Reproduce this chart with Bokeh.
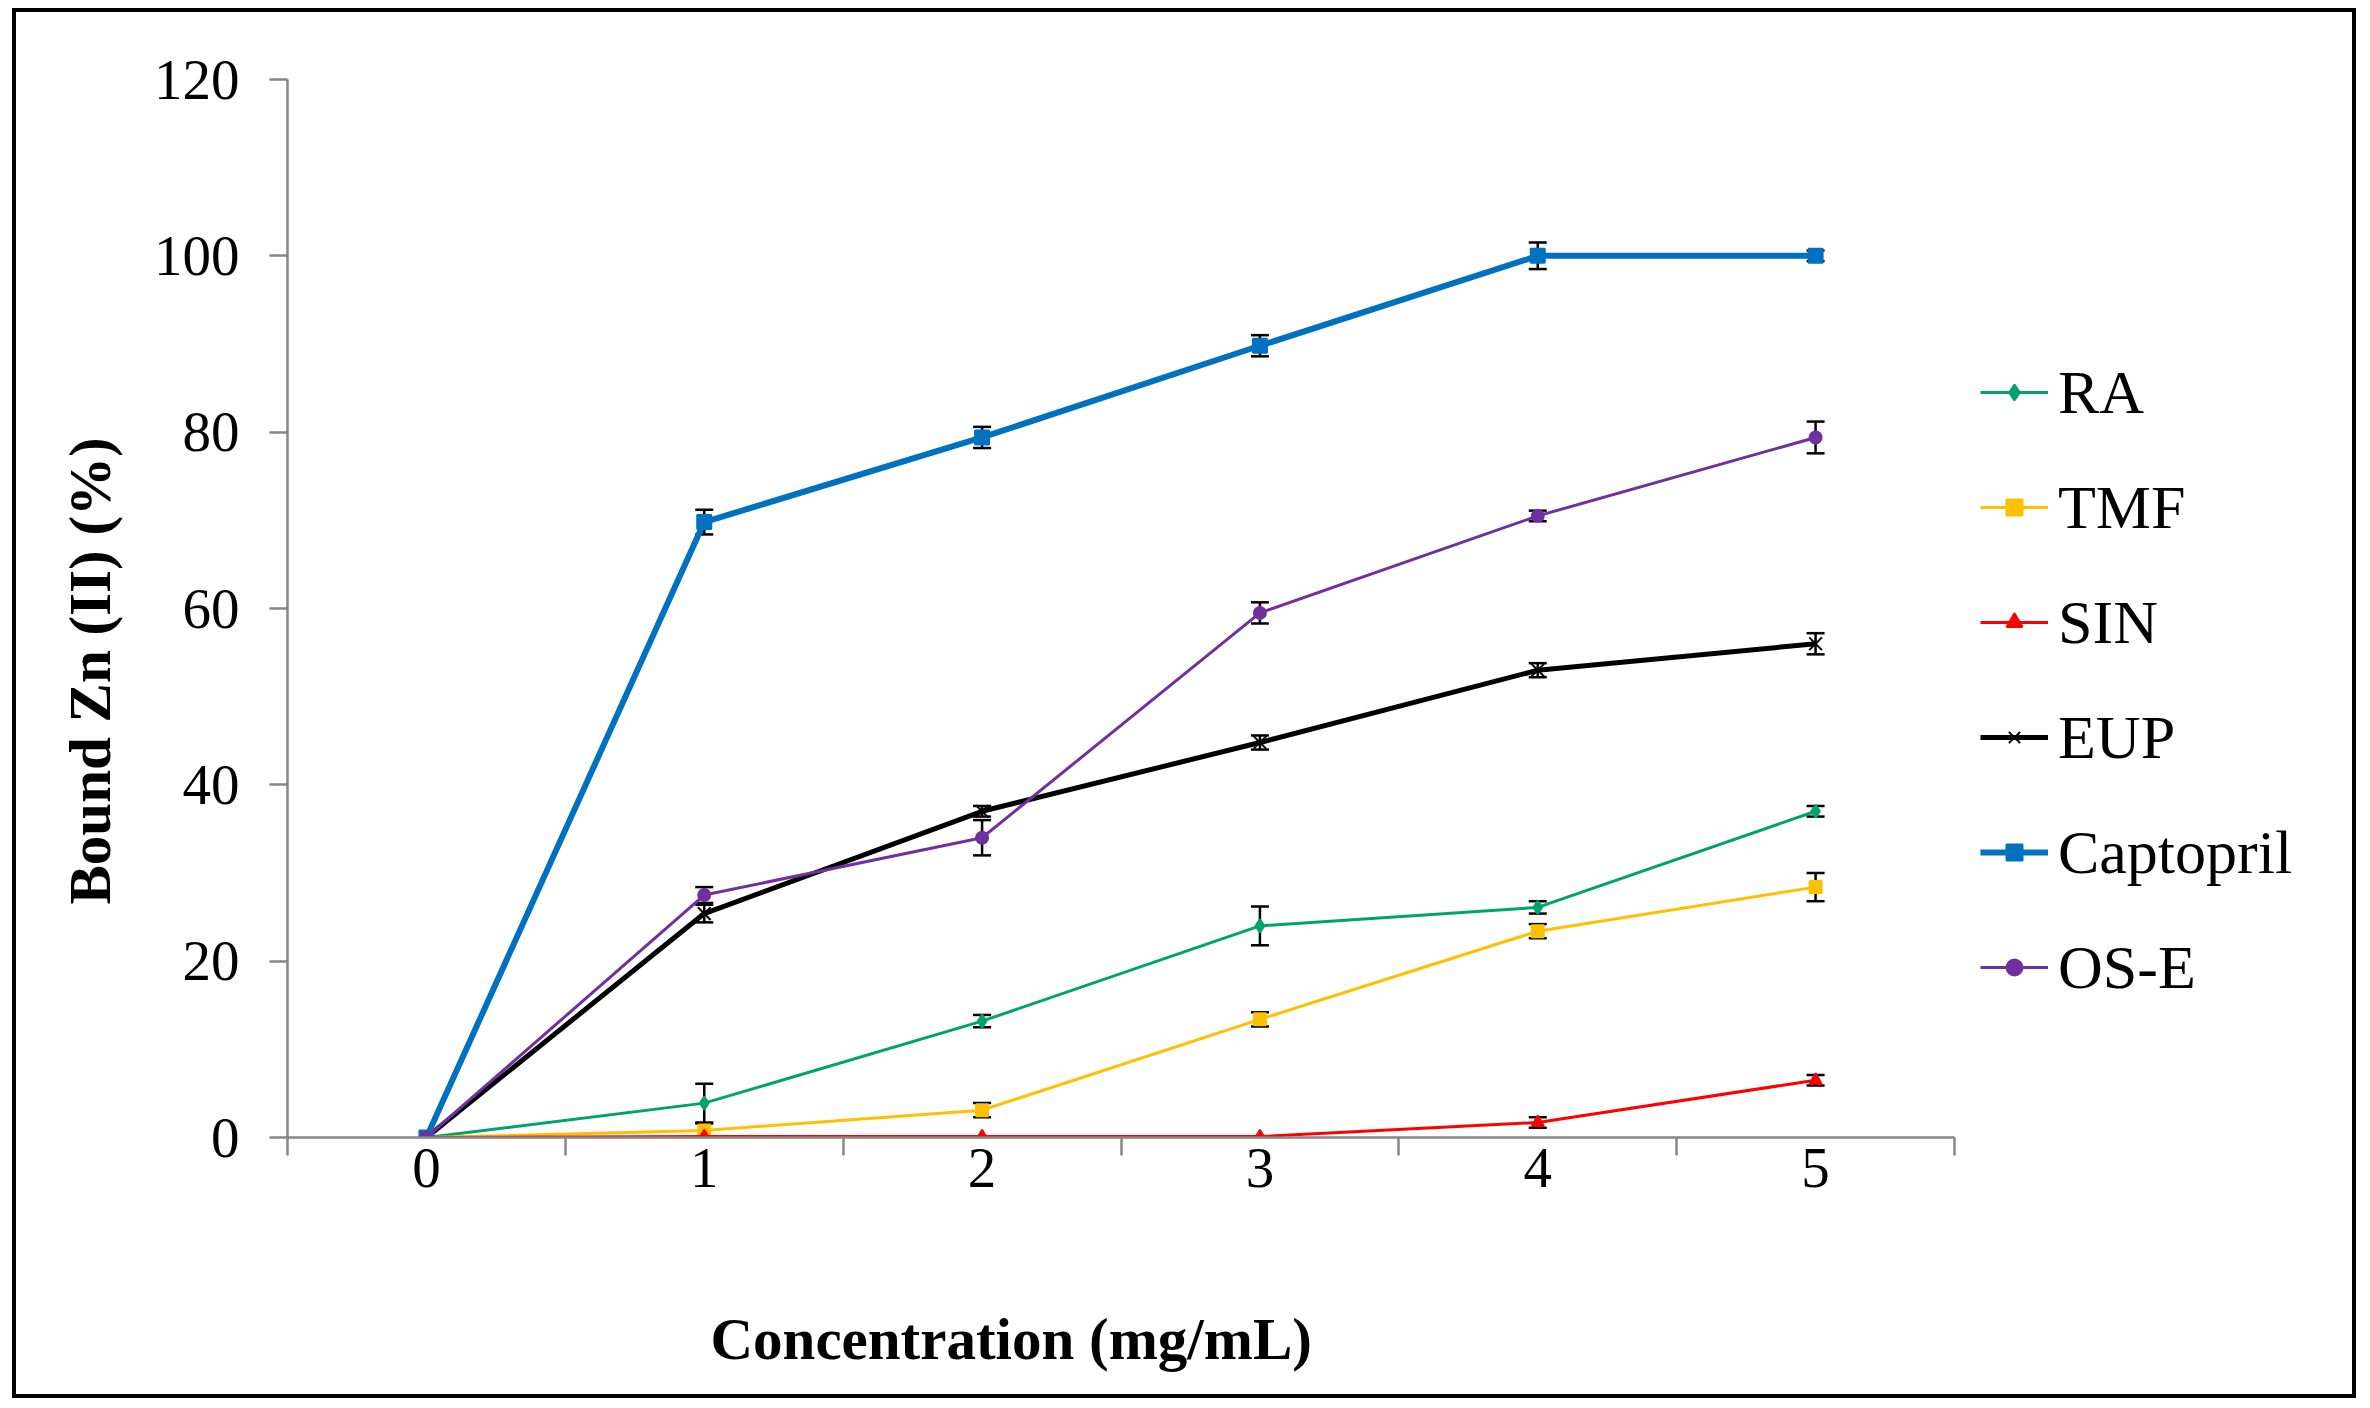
from bokeh.plotting import figure
from bokeh.models import (ColumnDataSource, Whisker, TeeHead, FixedTicker, Legend,
                          LegendItem, Range1d, Title, LinearAxis)
from bokeh.embed import file_html
from bokeh.resources import INLINE

# Data: concentration (mg/mL) vs bound Zn(II) (%)
conc = [0, 1, 2, 3, 4, 5]

ra = [0, 3.9, 13.2, 24.0, 26.1, 37.0]
ra_err = [0, 2.2, 0.7, 2.2, 0.7, 0.6]

tmf = [0, 0.8, 3.1, 13.4, 23.4, 28.4]
tmf_err = [0, 0.8, 0.8, 0.8, 0.8, 1.6]

sin = [0, 0.1, 0.1, 0.1, 1.7, 6.5]
sin_err = [0, 0, 0, 0, 0.6, 0.6]

eup = [0, 25.4, 37.0, 44.8, 53.0, 56.0]
eup_err = [0, 1.0, 0.6, 0.8, 0.8, 1.2]

captopril = [0, 69.8, 79.4, 89.8, 100.0, 100.0]
captopril_err = [0, 1.4, 1.2, 1.2, 1.5, 0.6]

ose = [0, 27.5, 34.0, 59.5, 70.5, 79.4]
ose_err = [0, 0.9, 2.0, 1.2, 0.6, 1.8]

y_ticks = [0, 20, 40, 60, 80, 100, 120]

FONT = "Liberation Serif"

W, H = 2344, 1390
LEFT, RIGHT, TOP, BOTTOM = 271, 48, 67, 265
AXIS_PX = 1667  # on-screen length of the x axis (-0.5 .. 5.5)
x_lo, x_hi = conc[0] - 0.5, conc[-1] + 0.5
# the frame runs on past the axis so the legend can sit inside it
x_end = x_lo + (x_hi - x_lo) * (W - LEFT - RIGHT) / AXIS_PX

p = figure(width=W, height=H, output_backend="svg", toolbar_location=None,
           x_range=Range1d(x_lo, x_end), y_range=Range1d(0, 120),
           min_border_left=LEFT, min_border_right=RIGHT, min_border_top=TOP, min_border_bottom=BOTTOM)
p.xgrid.visible = False
p.ygrid.visible = False
p.outline_line_color = None
p.background_fill_color = "white"
p.border_fill_color = "white"
# black frame round the whole picture
p.styles = {"border": "4px solid black", "margin-left": "12px", "margin-top": "8px"}

series = [
    ("RA", ra, ra_err, "#00A36C", 3, "diamond", 13),
    ("TMF", tmf, tmf_err, "#FFC000", 3, "square", 12),
    ("SIN", sin, sin_err, "#FF0000", 3, "triangle", 12),
    ("EUP", eup, eup_err, "black", 5, "x", 18),
    ("Captopril", captopril, captopril_err, "#0070C0", 6, "square", 14),
    ("OS-E", ose, ose_err, "#7030A0", 3, "circle", 12),
]

items = []
for name, vals, errs, color, lw, marker, size in series:
    src = ColumnDataSource(dict(x=conc, y=vals))
    l = p.line("x", "y", source=src, line_color=color, line_width=lw)
    m = p.scatter("x", "y", source=src, marker=marker, size=size,
                  fill_color=color, line_color=color, line_width=2)
    # error bars only where there is an error
    ex = [c for c, e in zip(conc, errs) if e > 0]
    lo = [v - e for v, e in zip(vals, errs) if e > 0]
    hi = [v + e for v, e in zip(vals, errs) if e > 0]
    esrc = ColumnDataSource(dict(x=ex, lower=lo, upper=hi))
    p.add_layout(Whisker(source=esrc, base="x", lower="lower", upper="upper",
                         line_color="black", line_width=2.5,
                         upper_head=TeeHead(size=18, line_color="black", line_width=2.5),
                         lower_head=TeeHead(size=18, line_color="black", line_width=2.5)))
    items.append(LegendItem(label=name, renderers=[l, m]))

# x axis: labels at integers, ticks between categories
p.xaxis.bounds = (x_lo, x_hi)
p.xaxis.ticker = FixedTicker(ticks=conc, minor_ticks=[c - 0.5 for c in conc] + [x_hi])
p.xaxis.major_tick_out = 0
p.xaxis.major_tick_in = 0
p.xaxis.minor_tick_out = 18
p.xaxis.minor_tick_in = 0
p.xaxis.minor_tick_line_color = "#868686"
p.xaxis.minor_tick_line_width = 2.5
p.xaxis.major_label_standoff = -7

p.yaxis.ticker = FixedTicker(ticks=y_ticks, minor_ticks=[])
p.yaxis.major_tick_out = 18
p.yaxis.major_tick_in = 0
p.yaxis.major_tick_line_color = "#868686"
p.yaxis.major_tick_line_width = 2.5
p.yaxis.major_label_standoff = 30

for ax in (p.xaxis, p.yaxis):
    ax.axis_line_color = "#868686"
    ax.axis_line_width = 2.5
    ax.major_label_text_font = FONT
    ax.major_label_text_font_size = "57px"
    ax.major_label_text_color = "black"

# empty strip under the tick labels, pushes the x title down
spacer = LinearAxis(ticker=FixedTicker(ticks=[x_lo], minor_ticks=[]), axis_line_color=None,
                    major_tick_line_color="white", minor_tick_line_color=None,
                    major_tick_out=99, major_tick_in=0, major_label_standoff=0,
                    major_label_overrides={x_lo: ""})
p.add_layout(spacer, "below")

# axis titles as Title so they can sit off-centre like the original
p.add_layout(Title(text="Concentration (mg/mL)", align="left", offset=423,
                   text_font=FONT, text_font_size="59px", text_font_style="bold",
                   text_color="black", standoff=30), "below")
p.add_layout(Title(text="Bound Zn (II) (%)", align="left", offset=233,
                   text_font=FONT, text_font_size="59px", text_font_style="bold",
                   text_color="black", standoff=56), "left")

legend = Legend(items=items, location=(1693, 132), padding=0, margin=0,
                border_line_color=None, background_fill_alpha=0,
                glyph_width=68, glyph_height=40, label_height=76, spacing=39,
                label_standoff=10, label_text_font=FONT, label_text_font_size="62px",
                label_text_color="black")
p.add_layout(legend)

open("out.html", "w").write(file_html(p, INLINE))
